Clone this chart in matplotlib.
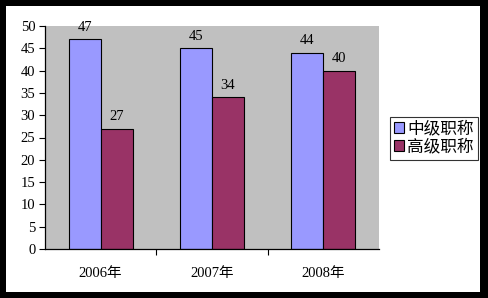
import matplotlib
matplotlib.use("Agg")
import matplotlib.pyplot as plt
import numpy as np
from matplotlib.patches import Rectangle

plt.rcParams['font.family'] = ['Liberation Serif', 'Noto Sans CJK SC', 'DejaVu Sans']

categories = ['2006年', '2007年', '2008年']
series_names = ['中级职称', '高级职称']
mid_vals = [47, 45, 44]
high_vals = [27, 34, 40]
colors = ['#9999FF', '#993366']

W, H = 488, 298
fig = plt.figure(figsize=(W / 100, H / 100), dpi=100, facecolor='white')
# black outer border
for (x0, y0, w, h) in [(0, 0, 6, H), (480, 0, W - 480, H), (0, 0, W, 6), (0, 292, W, H - 292)]:
    fig.patches.append(Rectangle((x0 / W, 1 - (y0 + h) / H), w / W, h / H,
                                 transform=fig.transFigure, facecolor='black',
                                 edgecolor='none', zorder=10))

ax = fig.add_axes([45 / W, 1 - 249 / H, (379 - 45) / W, (249 - 26) / H])
ax.set_facecolor('#C0C0C0')

x = np.arange(len(categories))
bw = 0.288
b1 = ax.bar(x - bw / 2, mid_vals, bw, color=colors[0], edgecolor='black', linewidth=0.8, label=series_names[0])
b2 = ax.bar(x + bw / 2, high_vals, bw, color=colors[1], edgecolor='black', linewidth=0.8, label=series_names[1])

for bars in (b1, b2):
    for r in bars:
        ax.annotate(f"{int(r.get_height())}", (r.get_x() + r.get_width() / 2, r.get_height()),
                    xytext=(0, 4), textcoords='offset points', ha='center', va='bottom',
                    fontsize=10.5, clip_on=False)

ax.set_xlim(-0.5, 2.5)
ax.set_ylim(0, 50)
ax.set_yticks(np.arange(0, 51, 5))
ax.tick_params(axis='y', labelsize=10.5, length=4, width=0.8, direction='out', pad=3)
ax.set_xticks(x)
ax.set_xticklabels(categories, fontsize=10.5)
ax.tick_params(axis='x', length=0, pad=13)
ax.set_xticks([0.5, 1.5], minor=True)
ax.tick_params(axis='x', which='minor', length=4, width=0.8, direction='out')

for s in ['top', 'right']:
    ax.spines[s].set_visible(False)
for s in ['left', 'bottom']:
    ax.spines[s].set_linewidth(0.9)

leg = fig.legend(handles=[b1, b2], labels=series_names,
                 loc='upper left', bbox_to_anchor=(390 / W, 1 - 117 / H),
                 frameon=True, fancybox=False, fontsize=12,
                 handlelength=0.6, handleheight=0.6, handletextpad=0.2,
                 borderpad=0.25, labelspacing=0.15, borderaxespad=0)
leg.get_frame().set_edgecolor('black')
leg.get_frame().set_linewidth(0.8)

fig.savefig('out.png', dpi=100, facecolor='white')
